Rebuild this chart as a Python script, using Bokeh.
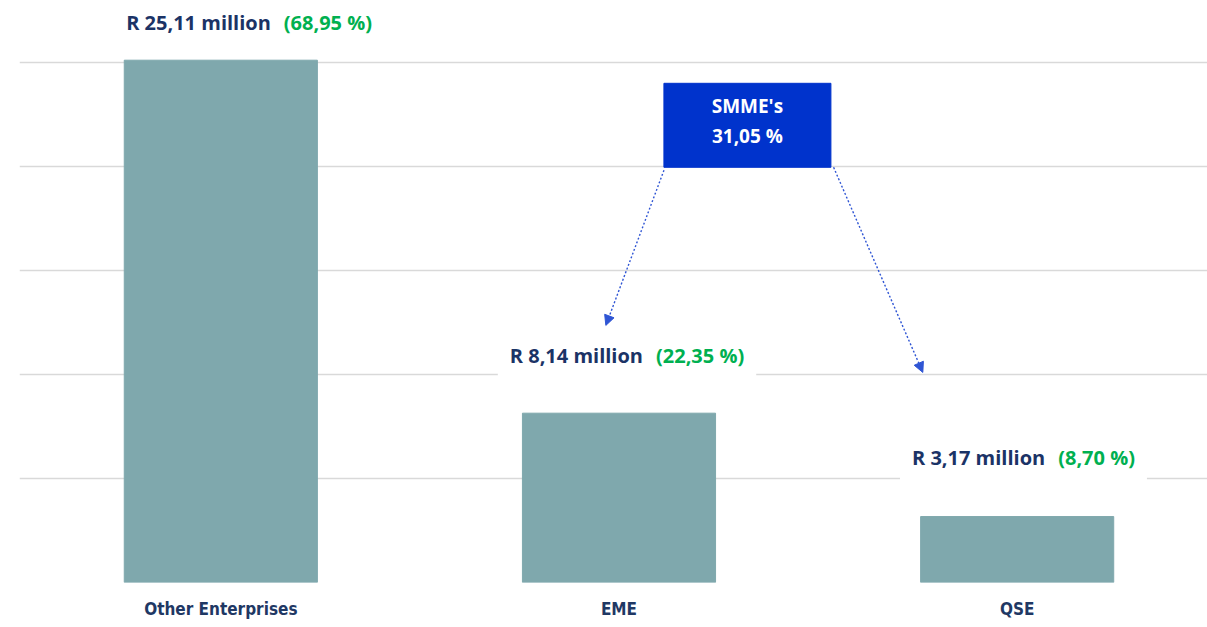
from bokeh.plotting import figure
from bokeh.models import Range1d, FixedTicker, Arrow, NormalHead, ColumnDataSource
from bokeh.core.properties import value
from bokeh.embed import file_html
from bokeh.resources import INLINE

categories = ["Other Enterprises", "EME", "QSE"]
values = [25.11, 8.14, 3.17]
value_labels = ["R 25,11 million", "R 8,14 million", "R 3,17 million"]
share_labels = ["(68,95 %)", "(22,35 %)", "(8,70 %)"]
smme_title = "SMME's"
smme_share = "31,05 %"
grid_ticks = [0, 5, 10, 15, 20, 25]

xs = list(range(len(categories)))

p = figure(width=1207, height=627, x_range=Range1d(-0.5056, 2.478), y_range=Range1d(0, 27.98),
           min_border_left=19, min_border_right=0, min_border_top=0, min_border_bottom=45,
           output_backend="svg", toolbar_location=None, y_axis_location=None)
p.outline_line_color = None
p.background_fill_color = "white"
p.border_fill_color = "white"

p.xgrid.visible = False
p.ygrid.ticker = FixedTicker(ticks=grid_ticks)
p.ygrid.grid_line_color = "#D9D9D9"
p.ygrid.grid_line_width = 1.5

p.xaxis.ticker = FixedTicker(ticks=xs)
p.xaxis.major_label_overrides = {i: c for i, c in zip(xs, categories)}
p.xaxis.axis_line_color = None
p.xaxis.major_tick_line_color = None
p.xaxis.minor_tick_line_color = None
p.xaxis.major_label_standoff = 10
p.xaxis.major_label_text_font = "DejaVu Sans Condensed"
p.xaxis.major_label_text_font_style = "bold"
p.xaxis.major_label_text_font_size = "17px"
p.xaxis.major_label_text_color = "#1F3864"

p.vbar(x=xs, top=values, width=0.485, color="#7FA8AD")

src = ColumnDataSource(dict(x=xs, y=values, vl=value_labels, sl=share_labels,
                            yo=[-38, -58, -59], xo_v=[62, 36, 40], xo_s=[51, 25, 29]))

FONT = value("Open Sans")
p.text(x="x", y="y", text="vl", source=src, x_offset="xo_v", y_offset="yo",
       text_align="right", text_baseline="middle", text_font=FONT,
       text_font_style="bold", text_font_size="20px", text_color="#1B3366",
       background_fill_color="white", padding=12)
p.text(x="x", y="y", text="sl", source=src, x_offset="xo_s", y_offset="yo",
       text_align="left", text_baseline="middle", text_font=FONT,
       text_font_style="bold", text_font_size="20px", text_color="#00B050",
       background_fill_color="white", padding=12)

# SMME's callout box
bx, by = 1.3225, 21.98
p.rect(x=[bx], y=[by], width=167, height=84, width_units="screen", height_units="screen",
       fill_color="#0033CC", line_color="#0033CC")
p.text(x=[bx], y=[by], text=[smme_title], y_offset=-19, text_align="center", text_baseline="middle",
       text_font=FONT, text_font_style="bold", text_font_size="19px", text_color="white")
p.text(x=[bx], y=[by], text=[smme_share], y_offset=11, text_align="center", text_baseline="middle",
       text_font=FONT, text_font_style="bold", text_font_size="19px", text_color="white")

for (x0, y0, x1, y1) in [(1.113, 19.82, 0.967, 12.36), (1.539, 19.96, 1.763, 10.10)]:
    p.add_layout(Arrow(end=NormalHead(size=10, fill_color="#2F55D4", line_color="#2F55D4"),
                       x_start=x0, y_start=y0, x_end=x1, y_end=y1,
                       line_color="#2F55D4", line_width=1.4, line_dash="2 2"))

open("out.html", "w").write(file_html(p, INLINE))
